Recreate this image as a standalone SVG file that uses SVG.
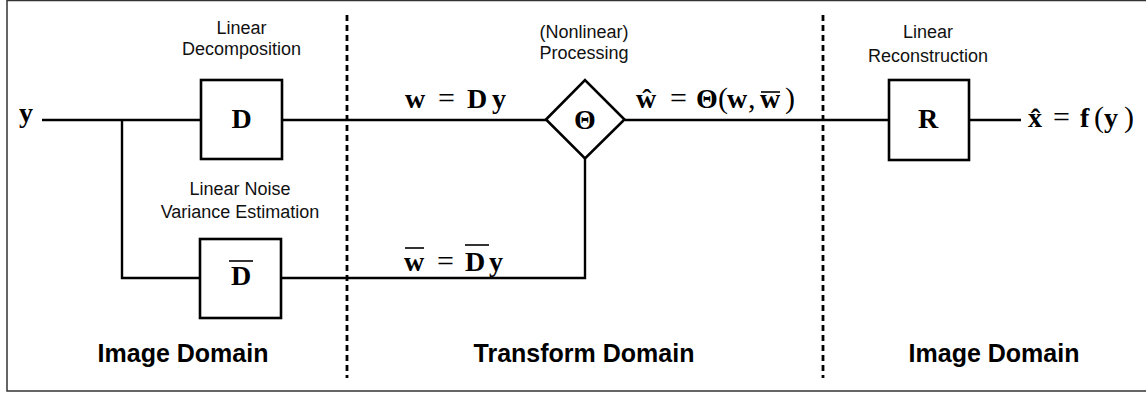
<svg xmlns="http://www.w3.org/2000/svg" width="1146" height="393" viewBox="0 0 1146 393">
<style>
.lbl{font-family:"Liberation Sans",Arial,sans-serif;font-size:18px;fill:#111;text-anchor:middle}
.dom{font-family:"Liberation Sans",Arial,sans-serif;font-size:25px;font-weight:bold;fill:#000;text-anchor:middle}
.m{font-family:"Liberation Serif","Times New Roman",serif;font-size:28px;font-weight:bold;fill:#000}
.mr{font-family:"Liberation Serif","Times New Roman",serif;font-size:30px;fill:#000}
.box{fill:#fff;stroke:#000;stroke-width:2.6}
.ln{fill:none;stroke:#000;stroke-width:2.4}
.bar{stroke:#000;stroke-width:1.6}
.dash{stroke:#000;stroke-width:2.8;stroke-dasharray:6 4}
</style>
<rect x="7" y="0.5" width="1141" height="390.5" fill="#fff" stroke="#333" stroke-width="1.5"/>
<g id="dividers">
<line class="dash" x1="347" y1="15" x2="347" y2="378"/>
<line class="dash" x1="823" y1="15" x2="823" y2="378"/>
</g>
<g id="connectors">
<polyline class="ln" points="42,120 201,120"/>
<polyline class="ln" points="122,120 122,278 200,278"/>
<polyline class="ln" points="282,120 546,120"/>
<polyline class="ln" points="625,120 889,120"/>
<polyline class="ln" points="969,120 1021,120"/>
<polyline class="ln" points="281,278 585,278 585,158"/>
</g>
<g id="input">
<text class="m" x="19" y="122" font-size="32">y</text>
</g>
<g id="node-D">
<rect class="box" x="201" y="80" width="81" height="79"/>
<text class="m" x="241.5" y="128" text-anchor="middle" font-size="26">D</text>
<text class="lbl" x="241.5" y="34">Linear</text>
<text class="lbl" x="241.5" y="55">Decomposition</text>
</g>
<g id="node-Dbar">
<rect class="box" x="200" y="239" width="81" height="79"/>
<text class="m" x="241" y="285" text-anchor="middle" font-size="26">D</text>
<line class="bar" x1="229" y1="261" x2="253" y2="261"/>
<text class="lbl" x="240" y="195">Linear Noise</text>
<text class="lbl" x="240" y="218">Variance Estimation</text>
</g>
<g id="node-Theta">
<polygon class="box" points="546,119.5 585,80 624.5,119.5 585,158.5"/>
<text class="m" x="585" y="129" text-anchor="middle" font-size="27">Θ</text>
<text class="lbl" x="584" y="38">(Nonlinear)</text>
<text class="lbl" x="584" y="59">Processing</text>
</g>
<g id="node-R">
<rect class="box" x="889" y="80" width="80" height="80"/>
<text class="m" x="928" y="128" text-anchor="middle" font-size="26">R</text>
<text class="lbl" x="928" y="38">Linear</text>
<text class="lbl" x="928" y="62">Reconstruction</text>
</g>
<g id="eq-w">
<text class="m" x="405" y="108">w</text>
<text class="mr" x="438" y="108">=</text>
<text class="m" x="467" y="108">D</text>
<text class="m" x="492" y="108">y</text>
</g>
<g id="eq-wbar">
<text class="m" x="404" y="271">w</text>
<line class="bar" x1="405" y1="248" x2="424" y2="248"/>
<text class="mr" x="437" y="271">=</text>
<text class="m" x="465" y="271">D</text>
<line class="bar" x1="465" y1="245" x2="489" y2="245"/>
<text class="m" x="489" y="271">y</text>
</g>
<g id="eq-what">
<text class="m" x="636" y="108">ŵ</text>
<text class="mr" x="670" y="108">=</text>
<text class="m" x="696" y="108">Θ</text>
<text class="mr" x="718" y="108">(</text>
<text class="m" x="727" y="108">w</text>
<text class="mr" x="748" y="108">,</text>
<text class="m" x="760" y="108">w</text>
<line class="bar" x1="761" y1="92" x2="780" y2="92"/>
<text class="mr" x="785" y="108">)</text>
</g>
<g id="eq-xhat">
<text class="m" x="1028" y="127">x̂</text>
<text class="mr" x="1053" y="127">=</text>
<text class="m" x="1080" y="127">f</text>
<text class="mr" x="1094" y="127">(</text>
<text class="m" x="1104" y="127">y</text>
<text class="mr" x="1124" y="127">)</text>
</g>
<g id="domains">
<text class="dom" x="183" y="362">Image Domain</text>
<text class="dom" x="584" y="362">Transform Domain</text>
<text class="dom" x="994" y="362">Image Domain</text>
</g>
</svg>
